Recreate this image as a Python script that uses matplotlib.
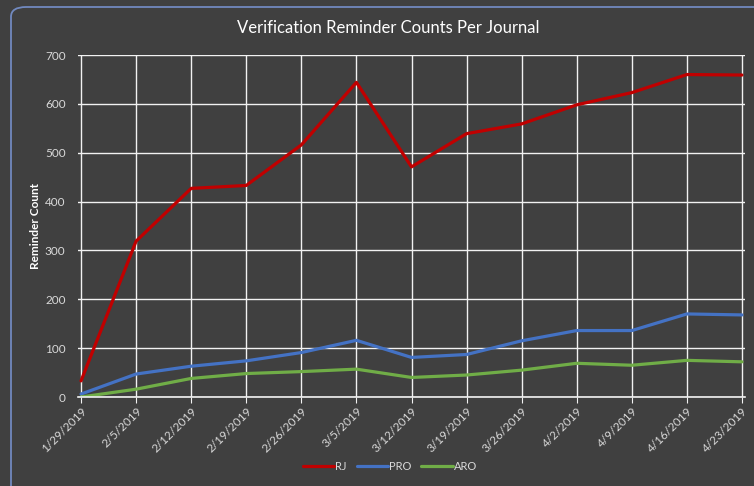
import matplotlib
matplotlib.use('Agg')
import matplotlib.pyplot as plt
from matplotlib.patches import FancyBboxPatch

dates = ['1/29/2019', '2/5/2019', '2/12/2019', '2/19/2019', '2/26/2019', '3/5/2019',
         '3/12/2019', '3/19/2019', '3/26/2019', '4/2/2019', '4/9/2019', '4/16/2019', '4/23/2019']
rj = [33, 319, 427, 433, 516, 644, 471, 539, 559, 598, 623, 660, 659]
pro = [6, 47, 63, 74, 91, 116, 81, 87, 115, 136, 136, 170, 168]
aro = [0, 16, 38, 48, 52, 57, 40, 45, 55, 69, 65, 75, 72]
yticks = [0, 100, 200, 300, 400, 500, 600, 700]

bg = '#404040'
txt = '#d9d9d9'
plt.rcParams['font.family'] = ['Lato', 'DejaVu Sans']

fig = plt.figure(figsize=(7.54, 4.86), dpi=100, facecolor=bg)

# rounded chart border
border = FancyBboxPatch((11/754, 1 - 500/486), 760/754, 493/486,
                        boxstyle='round,pad=0,rounding_size=0.02',
                        transform=fig.transFigure, facecolor='none',
                        edgecolor='#7189bf', linewidth=1.3)
fig.patches.append(border)

ax = fig.add_axes([78/754, 1 - 397/486, 667/754, 342/486])
ax.set_facecolor(bg)

x = list(range(len(dates)))
ax.plot(x, rj, color='#c00000', linewidth=2.3, label='RJ', solid_capstyle='round')
ax.plot(x, pro, color='#4472c4', linewidth=2.3, label='PRO', solid_capstyle='round')
ax.plot(x, aro, color='#70ad47', linewidth=2.3, label='ARO', solid_capstyle='round')

ax.set_xlim(-0.055, 12.055)
ax.set_ylim(0, 700)
ax.set_yticks(yticks)
ax.set_xticks(x)
ax.set_xticklabels(dates, rotation=45, ha='right', rotation_mode='anchor')
ax.grid(True, color='#f2f2f2', linewidth=1.0)
ax.set_axisbelow(True)
for s in ['top', 'right', 'left']:
    ax.spines[s].set_visible(False)
ax.spines['bottom'].set_color('#f2f2f2')
ax.spines['bottom'].set_linewidth(1.2)
ax.tick_params(axis='x', colors='#f2f2f2', labelcolor=txt, labelsize=8.5, length=4, pad=2)
ax.tick_params(axis='y', length=0, labelcolor=txt, labelsize=8.5, pad=9)

ax.set_ylabel('Reminder Count', color='white', fontsize=8.5, fontweight='bold', labelpad=3)
fig.text(388/754, 1 - 28/486, 'Verification Reminder Counts Per Journal',
         color='white', fontsize=12, ha='center', va='center')

leg = fig.legend(loc='center', bbox_to_anchor=(390/754, 1 - 466/486), ncol=3,
                 frameon=False, fontsize=8, labelcolor=txt, handlelength=2.8,
                 handletextpad=0.1, columnspacing=0.9)

fig.savefig('out.png', dpi=100, facecolor=bg)
